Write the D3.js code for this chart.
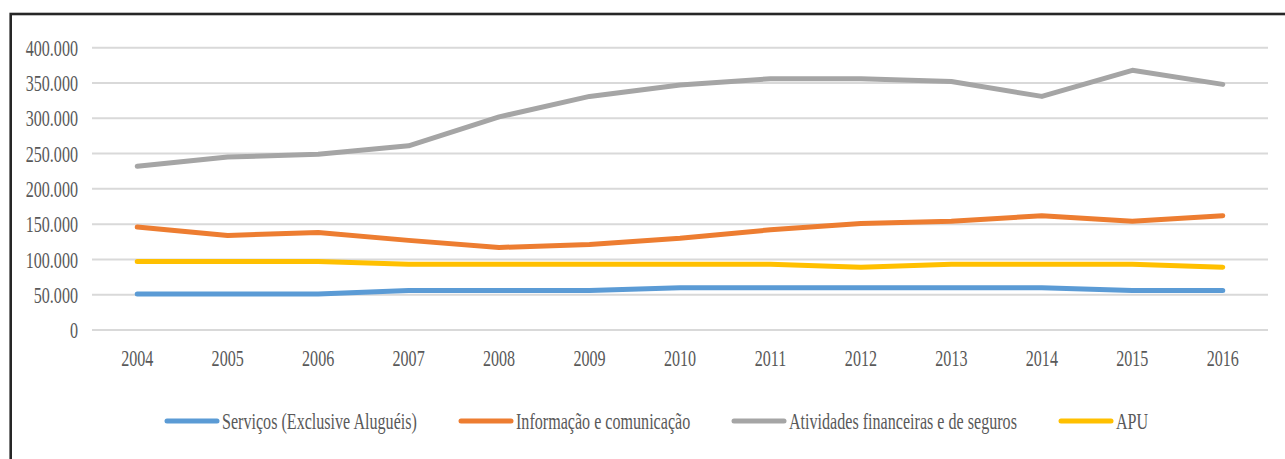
<!DOCTYPE html>
<html>
<head>
<meta charset="utf-8">
<script src="https://cdn.jsdelivr.net/npm/d3@7"></script>
<style>
  body { margin: 0; background: #fff; }
  svg text { font-family: "Liberation Serif", "Times New Roman", serif; fill: #595959; }
</style>
</head>
<body>
<svg id="svg" width="1285" height="459"></svg>
<script>
var years = ["2004","2005","2006","2007","2008","2009","2010","2011","2012","2013","2014","2015","2016"];
var yTicks = [0, 50000, 100000, 150000, 200000, 250000, 300000, 350000, 400000];

var servicos = [51000, 51000, 51000, 56000, 56000, 56000, 60000, 60000, 60000, 60000, 60000, 56000, 56000];
var informacao = [146000, 134000, 138000, 127000, 117000, 121000, 130000, 142000, 151000, 154000, 162000, 154000, 162000];
var financeiras = [232000, 245000, 249000, 261000, 302000, 331000, 347000, 356000, 356000, 352000, 331000, 368000, 348000];
var apu = [97000, 97000, 97000, 93000, 93000, 93000, 93000, 93000, 89000, 93000, 93000, 93000, 89000];

var seriesNames = ["Serviços (Exclusive Aluguéis)", "Informação e comunicação", "Atividades financeiras e de seguros", "APU"];
var seriesColours = ["#5b9bd5", "#ed7d31", "#a5a5a5", "#ffc000"];

var width = 1285, height = 459;
var sx = 0.7; // text is squeezed horizontally in the original
var svg = d3.select("svg");

// chart frame (runs off the right and bottom edges)
svg.append("rect")
  .attr("x", 10.7).attr("y", 14)
  .attr("width", 1400).attr("height", 600)
  .attr("fill", "none")
  .attr("stroke", "#262626")
  .attr("stroke-width", 2.6);

var x = d3.scaleBand().domain(years).range([92, 1268]);
var y = d3.scaleLinear().domain([0, 400000]).range([330, 47.7]);

var fmt = function(d) { return d === 0 ? "0" : d3.format(",")(d).replace(/,/g, "."); };

// gridlines
svg.append("g")
  .selectAll("line")
  .data(yTicks)
  .join("line")
  .attr("x1", 92).attr("x2", 1268)
  .attr("y1", d => y(d)).attr("y2", d => y(d))
  .attr("stroke", "#d9d9d9")
  .attr("stroke-width", 2);

var yAxis = svg.append("g")
  .attr("transform", "translate(92,0)")
  .call(d3.axisLeft(y).tickValues(yTicks).tickFormat(fmt).tickSize(0));
yAxis.select(".domain").remove();
yAxis.selectAll("text")
  .attr("font-size", 23)
  .attr("font-family", null)
  .attr("x", -14 / sx)
  .attr("dy", "0.33em")
  .attr("transform", "scale(" + sx + ",1)");

var xAxis = svg.append("g")
  .attr("transform", "translate(0,330)")
  .call(d3.axisBottom(x).tickSize(0));
xAxis.select(".domain").remove();
xAxis.selectAll("text")
  .attr("font-size", 23)
  .attr("font-family", null)
  .attr("y", 36)
  .attr("dy", 0)
  .attr("transform", "scale(" + sx + ",1)");

var allSeries = [servicos, informacao, financeiras, apu];
var line = d3.line()
  .x((d, i) => x(years[i]) + x.bandwidth() / 2)
  .y(d => y(d));

allSeries.forEach(function(s, k) {
  svg.append("path")
    .datum(s)
    .attr("d", line)
    .attr("fill", "none")
    .attr("stroke", seriesColours[k])
    .attr("stroke-width", 5)
    .attr("stroke-linejoin", "round")
    .attr("stroke-linecap", "round");
});

// legend
var legendX = [167, 461, 734, 1061];
var legendY = 421;
seriesNames.forEach(function(name, k) {
  var g = svg.append("g").attr("transform", "translate(" + legendX[k] + "," + legendY + ")");
  g.append("line")
    .attr("x1", 0).attr("x2", 50)
    .attr("y1", 0).attr("y2", 0)
    .attr("stroke", seriesColours[k])
    .attr("stroke-width", 5)
    .attr("stroke-linecap", "round");
  g.append("text")
    .attr("x", 55 / sx)
    .attr("y", 8)
    .attr("font-size", 23)
    .attr("transform", "scale(" + sx + ",1)")
    .text(name);
});
</script>
</body>
</html>
